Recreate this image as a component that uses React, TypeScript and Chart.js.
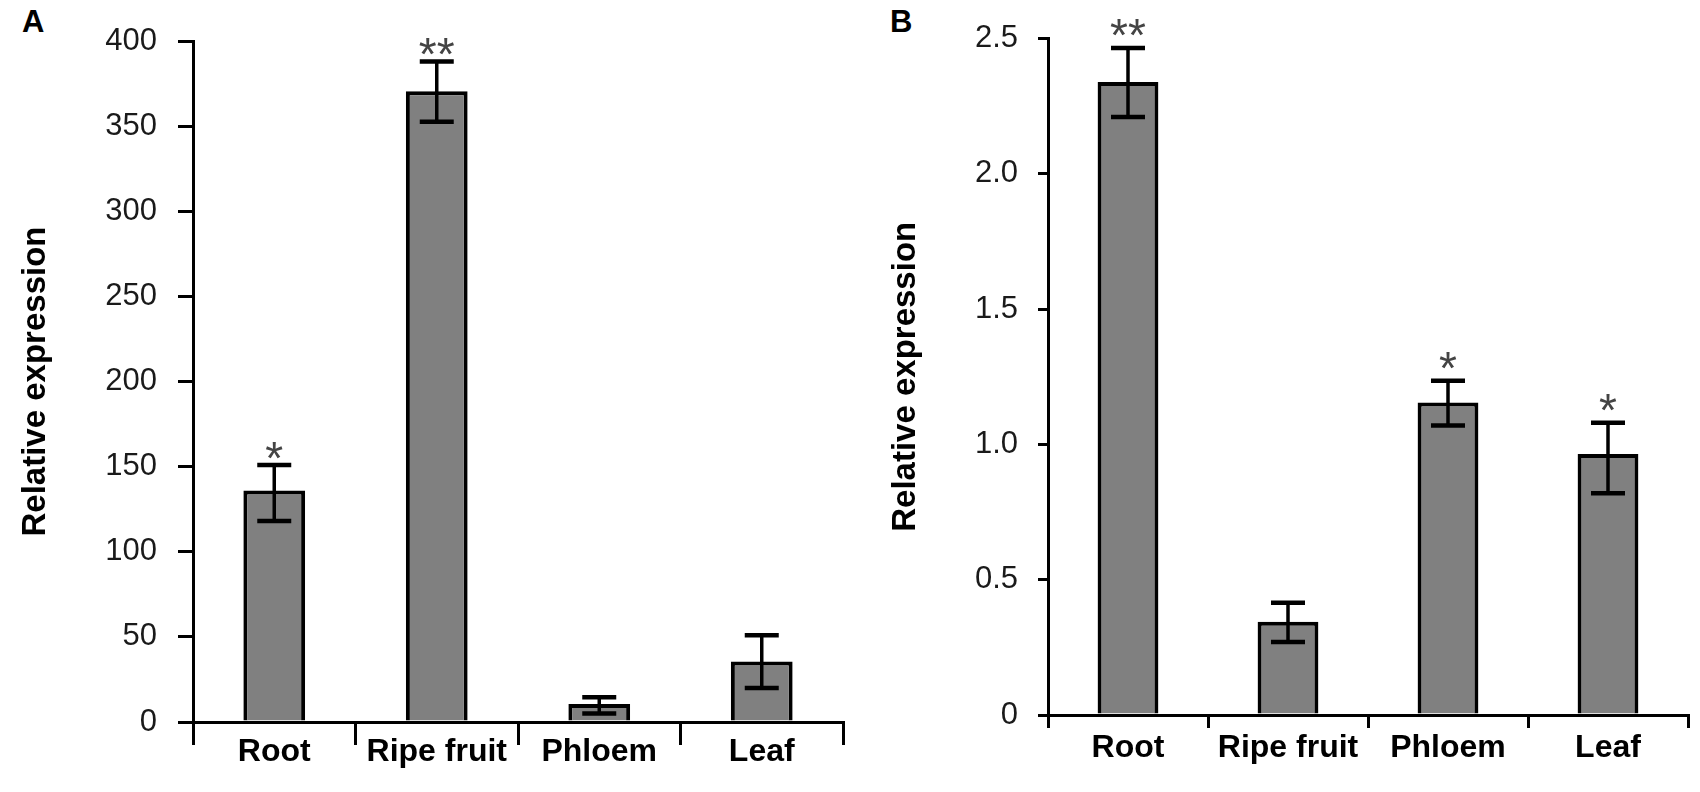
import React, { useEffect, useRef } from "react";
import { Chart, registerables } from "chart.js";
import type { Plugin, ChartOptions } from "chart.js";

Chart.register(...registerables);

const FONT = "'Liberation Sans', Arial, sans-serif";

const categories = ["Root", "Ripe fruit", "Phloem", "Leaf"];

// panel A
const meansA = [136, 370.5, 10.5, 35.5];
const lowA = [118, 352.5, 5, 20];
const highA = [151, 388, 14.5, 51];
const starsA = ["*", "**", "", ""];
const ticksA = [0, 50, 100, 150, 200, 250, 300, 350, 400];
const tickLabelsA = ["0", "50", "100", "150", "200", "250", "300", "350", "400"];

// panel B
const meansB = [2.34, 0.345, 1.155, 0.965];
const lowB = [2.21, 0.27, 1.07, 0.82];
const highB = [2.465, 0.415, 1.235, 1.08];
const starsB = ["**", "", "*", "*"];
const ticksB = [0, 0.5, 1.0, 1.5, 2.0, 2.5];
const tickLabelsB = ["0", "0.5", "1.0", "1.5", "2.0", "2.5"];

interface PanelLayout {
  left: number;
  width: number;
  top: number; // chart area top
  bottom: number; // chart area bottom
  axisLeft: number; // y axis width inside the panel
  padRight: number;
  yTickLen: number;
  yTickPad: number;
  titlePad: number;
  xTickLen: number;
  xTickPad: number;
  starGap: number;
  barPct: number;
}

interface PanelProps {
  means: number[];
  low: number[];
  high: number[];
  stars: string[];
  ticks: number[];
  tickLabels: string[];
  max: number;
  layout: PanelLayout;
}

// error bars + significance stars, drawn from the y scale
const errorBars = (low: number[], high: number[], stars: string[], gap: number): Plugin<"bar"> => ({
  id: "errorBars",
  afterDatasetsDraw(chart) {
    const meta = chart.getDatasetMeta(0);
    const y = chart.scales.y;
    const ctx = chart.ctx;
    const cap = 17;
    ctx.save();
    ctx.strokeStyle = "#000";
    meta.data.forEach((bar: any, i) => {
      const x = bar.x;
      const yHi = y.getPixelForValue(high[i]);
      const yLo = y.getPixelForValue(low[i]);
      ctx.lineWidth = 3.5;
      ctx.beginPath();
      ctx.moveTo(x, yHi);
      ctx.lineTo(x, yLo);
      ctx.stroke();
      ctx.lineWidth = 4.5;
      ctx.beginPath();
      ctx.moveTo(x - cap, yHi);
      ctx.lineTo(x + cap, yHi);
      ctx.moveTo(x - cap, yLo);
      ctx.lineTo(x + cap, yLo);
      ctx.stroke();
      if (stars[i]) {
        ctx.fillStyle = "#444";
        ctx.font = `46px ${FONT}`;
        ctx.textAlign = "center";
        ctx.textBaseline = "alphabetic";
        ctx.fillText(stars[i], x, yHi - gap + 20);
      }
    });
    ctx.restore();
  },
});

const BarPanel: React.FC<PanelProps> = ({ means, low, high, stars, ticks, tickLabels, max, layout }) => {
  const canvasRef = useRef<HTMLCanvasElement | null>(null);
  const chartRef = useRef<Chart | null>(null);

  useEffect(() => {
    const canvas = canvasRef.current;
    if (!canvas) return;
    if (chartRef.current) chartRef.current.destroy();

    const options: ChartOptions<"bar"> = {
      responsive: true,
      maintainAspectRatio: false,
      animation: false,
      layout: { padding: { top: layout.top, right: layout.padRight, left: 0, bottom: 0 } },
      plugins: { legend: { display: false }, tooltip: { enabled: false } },
      scales: {
        x: {
          offset: true,
          afterFit: (s: any) => {
            s.height = 792 - layout.bottom;
          },
          grid: {
            offset: true,
            drawOnChartArea: false,
            drawTicks: true,
            tickLength: layout.xTickLen,
            tickWidth: 3,
            tickColor: "#000",
            color: "#000",
            lineWidth: 3,
          },
          border: { display: true, color: "#000", width: 3 },
          ticks: {
            autoSkip: false,
            maxRotation: 0,
            padding: layout.xTickPad,
            color: "#000",
            font: { family: FONT, size: 32, weight: "bold" },
          },
        },
        y: {
          min: 0,
          max,
          afterFit: (s: any) => {
            s.width = layout.axisLeft;
          },
          afterBuildTicks: (s: any) => {
            s.ticks = ticks.map((v) => ({ value: v }));
          },
          grid: {
            drawOnChartArea: false,
            drawTicks: true,
            tickLength: layout.yTickLen,
            tickWidth: 3,
            tickColor: "#000",
            color: "#000",
            lineWidth: 3,
          },
          border: { display: true, color: "#000", width: 3 },
          ticks: {
            padding: layout.yTickPad,
            color: "#1a1a1a",
            font: { family: FONT, size: 31 },
            callback: (_v, i) => tickLabels[i],
          },
          title: {
            display: true,
            text: "Relative expression",
            color: "#000",
            font: { family: FONT, size: 33, weight: "bold" },
            padding: { top: layout.titlePad, bottom: 0 },
          },
        },
      },
    };

    chartRef.current = new Chart(canvas, {
      type: "bar",
      data: {
        labels: categories,
        datasets: [
          {
            data: means,
            backgroundColor: "#808080",
            borderColor: "#000",
            borderWidth: 4,
            barPercentage: layout.barPct,
            categoryPercentage: 1,
          },
        ],
      },
      options,
      plugins: [errorBars(low, high, stars, layout.starGap)],
    });

    return () => {
      if (chartRef.current) {
        chartRef.current.destroy();
        chartRef.current = null;
      }
    };
  }, [means, low, high, stars, ticks, tickLabels, max, layout]);

  return (
    <div style={{ position: "absolute", left: layout.left, top: 0, width: layout.width, height: 792 }}>
      <canvas ref={canvasRef} />
    </div>
  );
};

const layoutA: PanelLayout = {
  left: 0,
  width: 850,
  top: 41,
  bottom: 722,
  axisLeft: 193,
  padRight: 7,
  yTickLen: 15,
  yTickPad: 21,
  titlePad: 16,
  xTickLen: 23,
  xTickPad: -12,
  starGap: 11,
  barPct: 0.38,
};

const layoutB: PanelLayout = {
  left: 850,
  width: 850,
  top: 32,
  bottom: 715,
  axisLeft: 198,
  padRight: 12,
  yTickLen: 10,
  yTickPad: 20,
  titlePad: 36,
  xTickLen: 13,
  xTickPad: 1,
  starGap: 17,
  barPct: 0.38,
};

const letterStyle: React.CSSProperties = {
  position: "absolute",
  top: 7,
  fontFamily: FONT,
  fontWeight: "bold",
  fontSize: 31,
  lineHeight: "30px",
  color: "#000",
};

export default function App() {
  return (
    <div style={{ position: "absolute", left: 0, top: 0, width: 1700, height: 792, background: "#fff" }}>
      <div style={{ ...letterStyle, left: 22 }}>A</div>
      <div style={{ ...letterStyle, left: 890 }}>B</div>
      <BarPanel
        means={meansA}
        low={lowA}
        high={highA}
        stars={starsA}
        ticks={ticksA}
        tickLabels={tickLabelsA}
        max={400}
        layout={layoutA}
      />
      <BarPanel
        means={meansB}
        low={lowB}
        high={highB}
        stars={starsB}
        ticks={ticksB}
        tickLabels={tickLabelsB}
        max={2.5}
        layout={layoutB}
      />
    </div>
  );
}
